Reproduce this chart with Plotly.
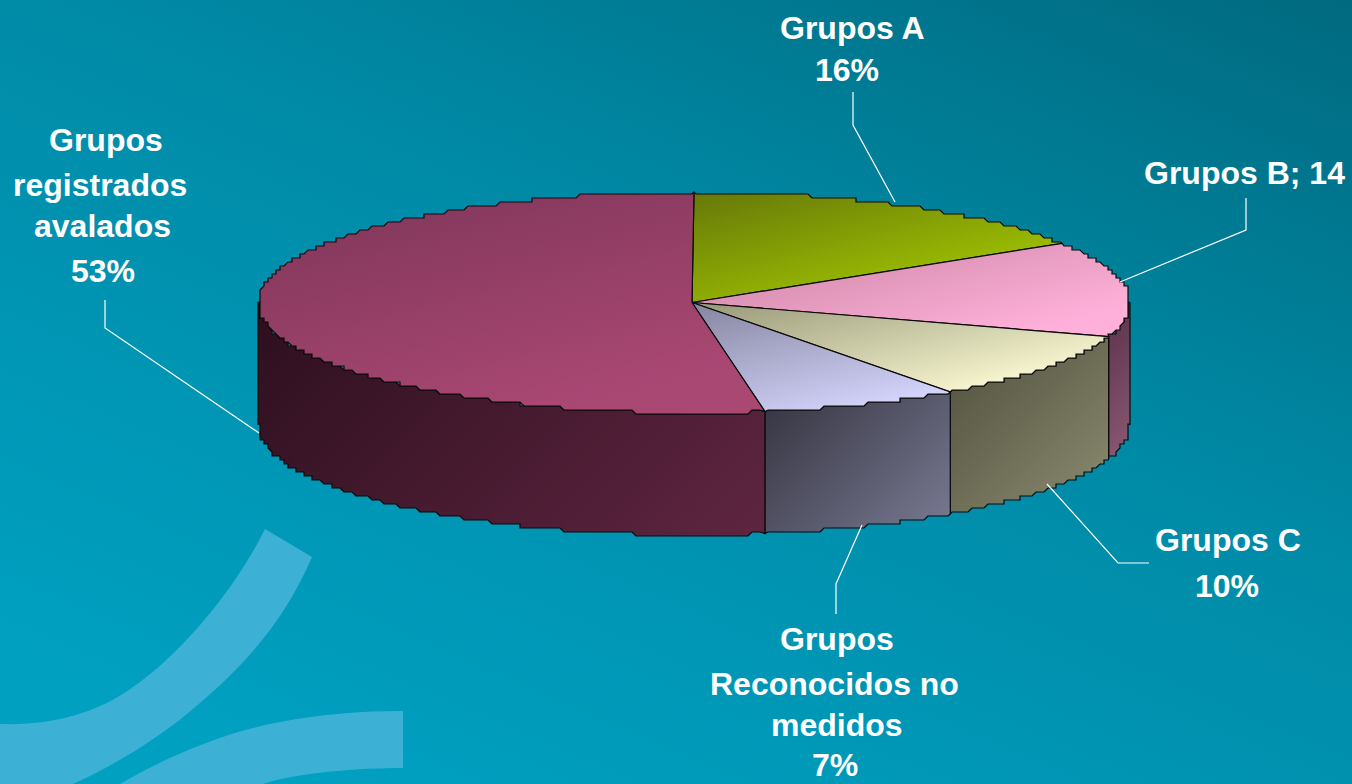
import base64
import math
import plotly.graph_objects as go

# ---- data ----
categories = ["Grupos A", "Grupos B", "Grupos C", "Grupos Reconocidos no medidos", "Grupos registrados avalados"]
values = [16, 14, 10, 7.4, 52.6]
label_lines = [["Grupos A", "16%"], ["Grupos B; 14"], ["Grupos C", "10%"],
               ["Grupos", "Reconocidos no", "medidos", "7%"],
               ["Grupos", "registrados", "avalados", "53%"]]
label_x = [[852, 847], [1244], [1228, 1227], [837, 834, 837, 835], [106, 100, 102, 103]]
label_y = [[28, 70], [173], [540, 586], [639, 684, 725, 765], [140, 185, 226, 271]]
leader_x = [[853, 853, 895], [1246, 1246, 1120], [1149, 1118, 1047], [836, 836, 862], [105, 105, 259]]
leader_y = [[92, 125, 202], [198, 230, 282], [563, 563, 484], [614, 584, 525], [300, 328, 433]]
top_colors = [("#66780a", "#a4c800"), ("#c7829f", "#ffb0da"), ("#979778", "#faf9d2"),
              ("#85859f", "#d2d2fa"), ("#7e3558", "#aa4874")]
side_colors = [("#5e6a10", "#7f9010"), ("#5a3048", "#8c5a74"), ("#4f4f3c", "#8c8c72"),
               ("#33333f", "#7a7a94"), ("#2d0f1e", "#5f2541")]

W, H = 1352, 784
CX, CY, RX, RY, DEPTH = 694, 302.5, 436, 110.5, 122


def rim(t, dy=0, jag=True):
    a = math.radians(t)
    x = CX + RX * math.sin(a)
    y = CY - RY * math.cos(a)
    if jag:
        x = round(x / 4) * 4
        y = round((y - 2) / 4) * 4 + 2
    return x, y + dy


def arc(t0, t1, dy=0):
    n = max(2, int(abs(t1 - t0) * 2))
    pts = [rim(t0, dy, False)]
    pts += [rim(t0 + (t1 - t0) * i / n, dy) for i in range(1, n)]
    pts.append(rim(t1, dy, False))
    return pts


fig = go.Figure()

total = sum(values)
spans, acc = [], 0.0
for v in values:
    spans.append((acc / total * 360, (acc + v) / total * 360))
    acc += v

# side walls (front half only)
n_sides = 0
for (t0, t1), cols in zip(spans, side_colors):
    a, b = max(t0, 90), min(t1, 270)
    if a >= b:
        continue
    n_sides += 1
    upper = arc(a, b)
    lower = arc(b, a, DEPTH)
    pts = upper + lower + [upper[0]]
    fig.add_trace(go.Scatter(
        x=[p[0] for p in pts], y=[p[1] for p in pts], mode="lines", fill="toself",
        line=dict(color="#0a0a0a", width=1.2),
        fillgradient=dict(type="vertical", colorscale=[[0, cols[0]], [1, cols[1]]]),
        hoverinfo="skip", showlegend=False))

# top faces
for (t0, t1), cols in zip(spans, top_colors):
    pts = [(CX - 2, CY)] + arc(t0, t1) + [(CX - 2, CY)]
    fig.add_trace(go.Scatter(
        x=[p[0] for p in pts], y=[p[1] for p in pts], mode="lines", fill="toself",
        line=dict(color="#0a0a0a", width=1.2),
        fillgradient=dict(type="vertical", colorscale=[[0, cols[0]], [1, cols[1]]]),
        hoverinfo="skip", showlegend=False))

# leader lines
for lx, ly in zip(leader_x, leader_y):
    fig.add_trace(go.Scatter(x=lx, y=ly, mode="lines", line=dict(color="white", width=1.2),
                             hoverinfo="skip", showlegend=False))

annotations = []
for lines, xs, ys in zip(label_lines, label_x, label_y):
    for t, x, y in zip(lines, xs, ys):
        annotations.append(dict(x=x, y=y, xref="x", yref="y", text=f"<b>{t}</b>", showarrow=False,
                                xanchor="center", yanchor="middle", align="center",
                                font=dict(family="Liberation Sans", size=32, color="white")))

# slide background with its two pale swooshes
swoosh = "#3db0d6"
bg_svg = ('<svg xmlns="http://www.w3.org/2000/svg" width="1352" height="784">'
          '<defs><linearGradient id="g" x1="1" y1="0" x2="0.25" y2="1">'
          '<stop offset="0" stop-color="#006a80"/><stop offset="0.45" stop-color="#008aa6"/>'
          '<stop offset="1" stop-color="#00a0c1"/></linearGradient></defs>'
          '<rect width="1352" height="784" fill="url(#g)"/>'
          f'<path fill="{swoosh}" d="M 265 529 L 312 557 C 285 620 245 665 200 703 '
          'C 160 738 115 765 73 784 L 0 784 L 0 724 C 60 726 105 708 133 687 C 180 655 235 590 265 529 Z"/>'
          f'<path fill="{swoosh}" d="M 403 711 L 403 768 C 360 768 300 772 263 784 L 120 784 '
          'C 170 755 225 732 280 722 C 320 714 365 711 403 711 Z"/>'
          '</svg>')
bg_src = "data:image/svg+xml;base64," + base64.b64encode(bg_svg.encode()).decode()

fig.update_layout(
    width=W, height=H, margin=dict(l=0, r=0, t=0, b=0), showlegend=False,
    paper_bgcolor="#008aa6", plot_bgcolor="rgba(0,0,0,0)",
    xaxis=dict(range=[0, W], visible=False, fixedrange=True),
    yaxis=dict(range=[H, 0], visible=False, fixedrange=True),
    images=[dict(source=bg_src, xref="x", yref="y", x=0, y=0, sizex=W, sizey=H,
                 sizing="stretch", layer="below", xanchor="left", yanchor="top")],
    annotations=annotations,
)

# tilt the fill gradients: sides run corner to corner, tops slant slightly
post = """
document.body.style.margin='0';
function tilt(){
  var els=document.querySelectorAll('.js-fill');
  els.forEach(function(el,i){
    var m=/#([^"')]+)/.exec(el.style.fill||''); if(!m) return;
    var g=document.getElementById(m[1]); if(!g) return;
    var b=el.getBBox();
    var side=i<NSIDES;
    var dx=side?0.707:0.24, dy=side?0.707:0.97;
    var L=(b.width*dx+b.height*dy)*(side?1:0.85);
    g.setAttribute('gradientUnits','userSpaceOnUse');
    g.setAttribute('x1',b.x); g.setAttribute('y1',b.y);
    g.setAttribute('x2',b.x+dx*L); g.setAttribute('y2',b.y+dy*L);
  });
}
tilt(); setTimeout(tilt,50); setTimeout(tilt,300);
""".replace("NSIDES", str(n_sides))

fig.write_html("out.html", config={"displayModeBar": False},
               default_width=W, default_height=H, post_script=post)
